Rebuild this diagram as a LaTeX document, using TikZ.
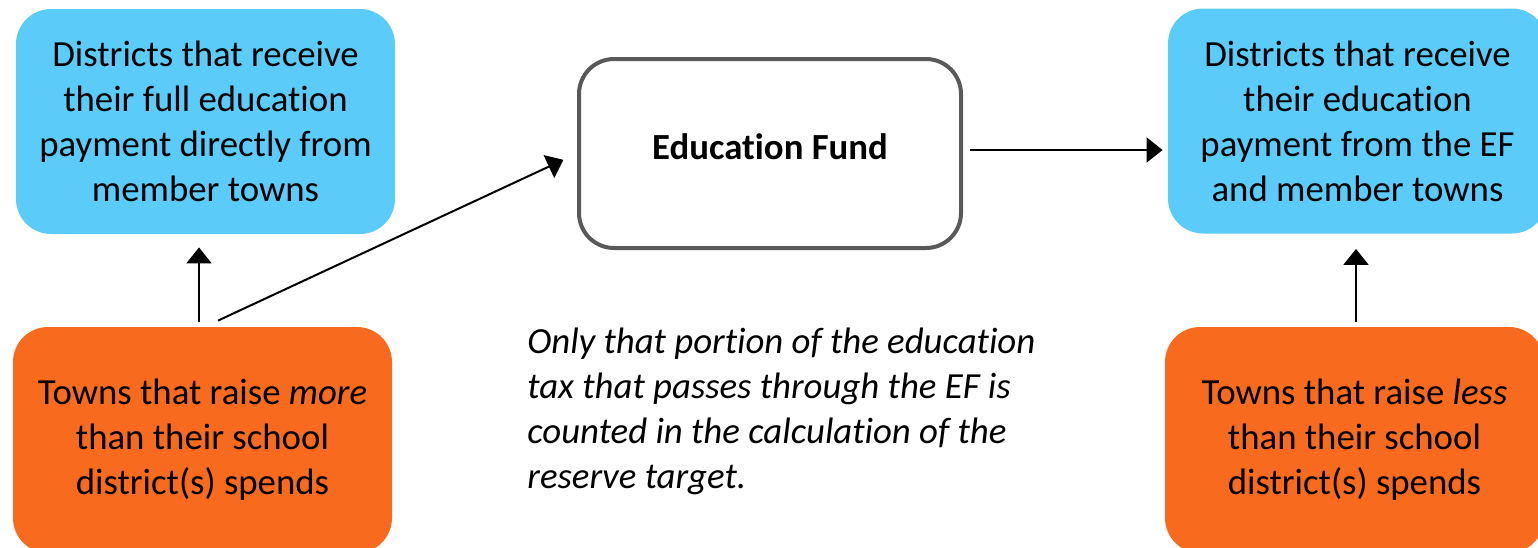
\documentclass[tikz,border=0pt]{standalone}
\usepackage{fontspec}
\setmainfont{Carlito}[Ligatures=NoCommon]
\usepackage{tikz}
\usetikzlibrary{positioning,arrows.meta}
\definecolor{districtColor}{RGB}{91,204,249}
\definecolor{townColor}{RGB}{248,107,31}
\definecolor{fundColor}{RGB}{89,89,89}
\tikzstyle{pixels} = [x = .5pt, y = -.5pt]
\tikzstyle{boxText} = [font=\fontsize{18.4}{22.5}\selectfont, align=center, inner sep=0pt]
\tikzstyle{districtStyle} = [boxText, fill=districtColor, rounded corners = 17.5pt, minimum width = 189.5pt, minimum height = 112.5pt]
\tikzstyle{townStyle} = [boxText, fill=townColor, rounded corners = 17.5pt, minimum width = 189.5pt, minimum height = 113pt]
\tikzstyle{fundStyle} = [boxText, draw=fundColor, line width = 2pt, fill=white, rounded corners = 17.5pt, minimum width = 191pt, minimum height = 94.5pt, text depth = 7pt, font=\fontsize{18.4}{22.5}\selectfont\bfseries]
\tikzstyle{noteStyle} = [font=\fontsize{18.4}{22.5}\selectfont\itshape, align=left, inner sep=0pt, anchor=west]
\tikzstyle{flow} = [line width = 1pt, -{Triangle[width=12.5pt, length=8pt]}]

\begin{document}
\begin{tikzpicture}[pixels]
          \useasboundingbox (0,0) rectangle (1538,547);
          \node [districtStyle] (leftDistricts) at (205.5,121.5) {Districts that receive\\their full education\\payment directly from\\member towns};
          \node [townStyle] (leftTowns) at (202.5,440) {Towns that raise \textit{more}\\than their school\\district(s) spends};
          \node [fundStyle] (fund) at (770,153.5) {Education Fund};
          \node [districtStyle] (rightDistricts) at (1357.5,121) {Districts that receive\\their education\\payment from the EF\\and member towns};
          \node [townStyle] (rightTowns) at (1354.5,440) {Towns that raise \textit{less}\\than their school\\district(s) spends};
          \node [noteStyle] (note) at (527,411) {Only that portion of the education\\tax that passes through the EF is\\counted in the calculation of the\\reserve target.};

          \draw [flow, shorten > = 6.5pt] ([xshift=-1.75pt, yshift=2.5pt]leftTowns.north) -- ([xshift=-1.75pt]leftTowns.north |- leftDistricts.south);
          \draw [flow, shorten > = 7.5pt] ([xshift=7.75pt, yshift=3pt]leftTowns.north) -- (fund.west);
          \draw [flow, shorten > = 2.5pt] ([xshift=3.5pt, yshift=1.75pt]fund.east) -- ([yshift=1.75pt]fund.east -| rightDistricts.west);
          \draw [flow, shorten > = 7.5pt] ([xshift=.75pt, yshift=2.5pt]rightTowns.north) -- ([xshift=.75pt]rightTowns.north |- rightDistricts.south);
        \end{tikzpicture}
\end{document}
